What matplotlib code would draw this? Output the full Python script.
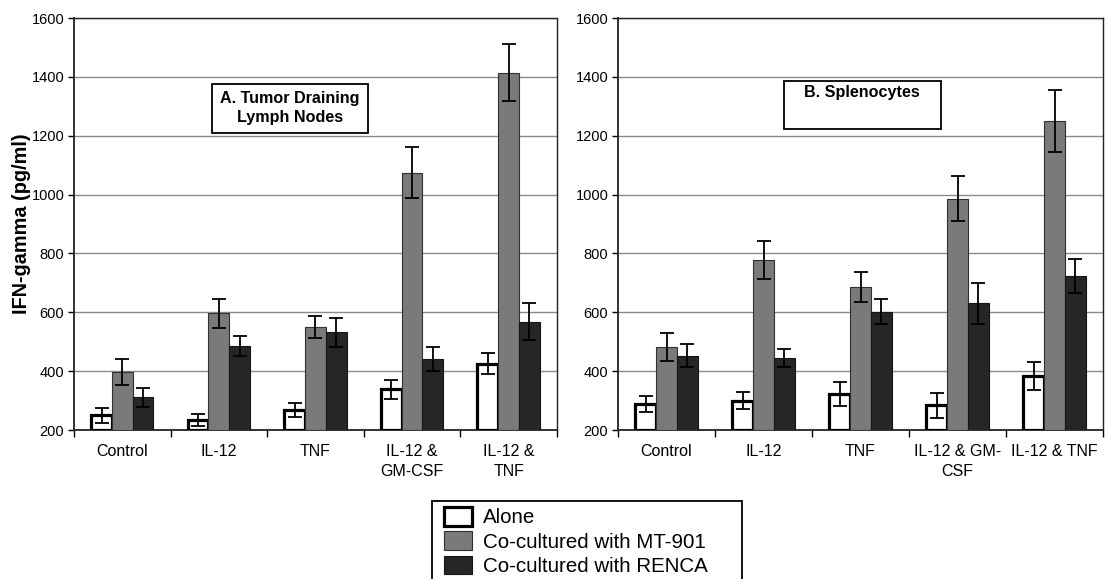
import matplotlib
matplotlib.use("Agg")
import matplotlib.pyplot as plt
import numpy as np
from matplotlib.patches import Patch, Rectangle

plt.rcParams['font.family'] = ['Liberation Sans', 'DejaVu Sans']

cats_a = ["Control", "IL-12", "TNF", "IL-12 &\nGM-CSF", "IL-12 &\nTNF"]
cats_b = ["Control", "IL-12", "TNF", "IL-12 & GM-\nCSF", "IL-12 & TNF"]
series = ["Alone", "Co-cultured with MT-901", "Co-cultured with RENCA"]

a_alone = [250, 234, 268, 338, 426]
a_mt = [398, 596, 550, 1075, 1414]
a_renca = [311, 485, 532, 441, 568]
a_alone_err = [25, 22, 23, 32, 37]
a_mt_err = [45, 50, 36, 88, 97]
a_renca_err = [33, 34, 50, 40, 62]

b_alone = [287, 300, 322, 284, 384]
b_mt = [481, 778, 687, 986, 1251]
b_renca = [452, 444, 602, 630, 723]
b_alone_err = [27, 28, 41, 43, 48]
b_mt_err = [48, 65, 51, 77, 105]
b_renca_err = [39, 30, 43, 70, 58]

yticks = [200, 400, 600, 800, 1000, 1200, 1400, 1600]

fig = plt.figure(figsize=(11.11, 5.79), dpi=100)
axA = fig.add_axes([0.0666, 0.2573, 0.4347, 0.7116])
axB = fig.add_axes([0.5563, 0.2573, 0.4365, 0.7116])

face = ["white", "#7a7a7a", "#262626"]
edges = ["black", "#303030", "#151515"]
lws = [2.3, 0.8, 0.8]

def draw(ax, cats, vals, errs):
    x = np.arange(len(cats))
    w = 0.215
    for i, (v, e) in enumerate(zip(vals, errs)):
        ax.bar(x + (i - 1) * w, np.array(v) - 200, w, bottom=200,
               color=face[i], edgecolor=edges[i], linewidth=lws[i], zorder=3)
        ax.errorbar(x + (i - 1) * w, v, yerr=e, fmt='none', ecolor='black',
                    elinewidth=1.3, capsize=5, capthick=1.3, zorder=4)
    ax.set_ylim(200, 1600)
    ax.set_xlim(-0.5, len(cats) - 0.5)
    ax.set_yticks(yticks)
    ax.set_yticklabels([str(t) for t in yticks], fontsize=10.5)
    ax.yaxis.grid(True, color='#8a8a8a', linewidth=1.0, zorder=0)
    ax.set_xticks(x)
    ax.set_xticklabels(cats, fontsize=11.5, linespacing=1.45)
    ax.tick_params(axis='x', length=0, pad=10)
    ax.tick_params(axis='y', length=4, width=1, pad=3)
    ax.set_xticks(np.arange(len(cats) + 1) - 0.5, minor=True)
    ax.tick_params(axis='x', which='minor', length=5, width=1)
    for s in ax.spines.values():
        s.set_linewidth(1.0)
        s.set_color('#222222')
    ax.spines['left'].set_linewidth(1.3)
    ax.spines['bottom'].set_linewidth(1.3)

draw(axA, cats_a, [a_alone, a_mt, a_renca], [a_alone_err, a_mt_err, a_renca_err])
draw(axB, cats_b, [b_alone, b_mt, b_renca], [b_alone_err, b_mt_err, b_renca_err])

axA.set_ylabel("IFN-gamma (pg/ml)", fontsize=14.3, fontweight='bold', labelpad=0)

# annotation boxes
fig.patches.append(Rectangle((212/1111, 1 - 133/579), 156/1111, 49/579,
                             transform=fig.transFigure, fill=True, facecolor='white',
                             edgecolor='black', linewidth=1.3, zorder=5))
fig.text(290/1111, 1 - 108/579, "A. Tumor Draining\nLymph Nodes", ha='center', va='center',
         fontsize=11.6, fontweight='bold', linespacing=1.3, zorder=6)
fig.patches.append(Rectangle((784/1111, 1 - 129/579), 157/1111, 48/579,
                             transform=fig.transFigure, fill=True, facecolor='white',
                             edgecolor='black', linewidth=1.3, zorder=5))
fig.text(862/1111, 1 - 93/579, "B. Splenocytes", ha='center', va='center',
         fontsize=11.6, fontweight='bold', zorder=6)

# legend frame (extends beyond the bottom edge as in the reference)
fig.patches.append(Rectangle((432/1111, -20/579), 310/1111, (579 - 501 + 20)/579,
                             transform=fig.transFigure, fill=True, facecolor='white',
                             edgecolor='black', linewidth=1.3, zorder=1))
handles = [Patch(facecolor=face[i], edgecolor=edges[i], linewidth=lws[i], label=series[i])
           for i in range(3)]
leg = fig.legend(handles=handles, loc='upper left', bbox_to_anchor=(440/1111, 1 - 503/579),
                 fontsize=14.8, frameon=False,
                 borderpad=0.2, labelspacing=0.2, handlelength=1.35, handleheight=1.0,
                 handletextpad=0.55, borderaxespad=0)

fig.savefig("out.png", dpi=100)
